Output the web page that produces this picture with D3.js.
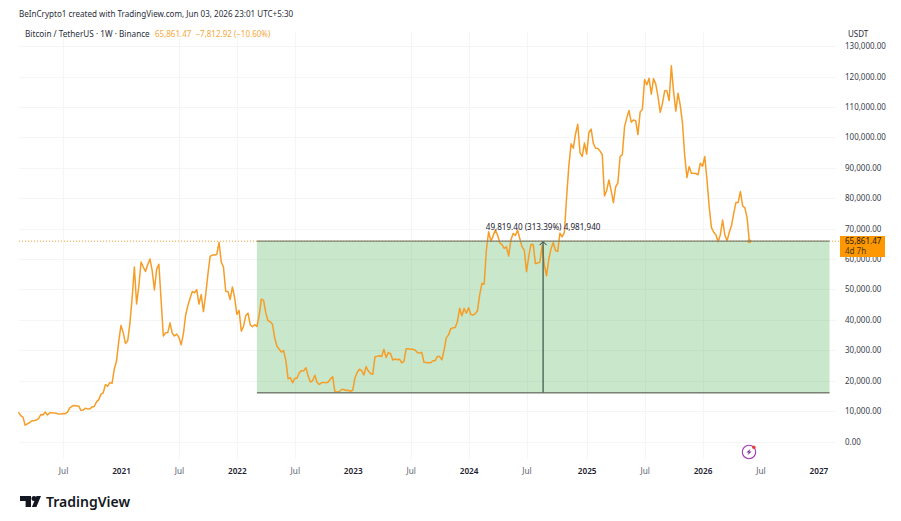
<!DOCTYPE html>
<html>
<head>
<meta charset="utf-8">
<script src="https://cdnjs.cloudflare.com/ajax/libs/d3/7.9.0/d3.min.js"></script>
<style>
html,body{margin:0;padding:0;background:#fff}
svg{display:block}
text{font-family:"Noto Sans",sans-serif}
</style>
</head>
<body>
<svg id="chart" width="901" height="521"></svg>
<script>
// Weekly BTC/USDT closes, one array per calendar year.
const yearStarts = ["2020-02-17","2021-01-04","2022-01-03","2023-01-02","2024-01-01","2025-01-06","2026-01-05"];
const closes2020 = [9660,8530,8030,5360,5820,6250,6790,6860,7040,7550,8870,8720,9680,8720,9450,9470,9330,9300,9000,9060,9230,9160,9680,11070,11570,11840,11650,11710,10250,10330,10920,10770,10670,11370,11500,13030,13760,15480,15960,18680,18180,19360,19170,23850,26450,33000];
const closes2021 = [38150,35800,32250,33100,38850,47150,57400,45200,51000,59000,57350,55900,58200,60000,56150,49800,56600,58300,46430,34700,35700,35800,39000,35600,34700,35300,34250,31780,35400,41500,44600,47100,49300,48900,49900,45200,48300,42700,48200,54950,60860,61300,61300,61500,65500,59000,57300,49400,49300,46700,50800,47300];
const closes2022 = [41800,43100,36300,37900,41400,42200,38400,37700,38400,37800,41300,46800,46400,42200,39700,39400,38500,34000,31300,30300,29400,29900,26600,20600,21000,19300,20800,20800,22600,23300,23200,24300,21500,19550,20000,21800,19400,18800,19300,19440,19270,19570,20600,21300,16300,16280,16430,17100,17100,16780,16840,16540];
const closes2023 = [16830,20900,22700,23750,23320,21860,24630,23160,22350,22100,27900,28000,28200,27940,30300,27600,29230,28850,26770,27110,26850,27070,25840,26340,30530,30470,30290,30290,30080,29230,29050,29300,26050,26000,25870,25900,26530,26580,27970,27920,26850,29990,34070,35040,37060,37370,37450,39470,43790,41370,43720,42150];
const closes2024 = [43970,41730,41580,42030,43010,48300,52000,51700,63100,68960,65800,67600,69500,67900,65300,64700,63500,64010,61000,66270,68400,67760,69500,66670,64000,62900,55850,60800,64800,64800,58500,58710,58970,64600,58000,54500,59990,63340,65400,62800,62500,68500,67300,68780,80370,90600,97900,96400,101100,104300,95000,93700,98100];
const closes2025 = [94500,101600,102700,98000,96400,96300,95500,94300,80700,82600,86000,82400,78500,83700,85000,93700,94300,103500,106400,108800,105000,105700,105500,100900,108300,109200,119000,117300,119400,114200,119300,117500,113500,108200,111100,115300,115300,112100,123500,115000,108600,114500,110500,104700,94000,86800,90400,88200,88200,88100,87700,91500];
const closes2026 = [90500,93700,86000,77000,70300,68800,68000,65700,68000,72800,68000,65900,68800,71000,75000,78600,78600,82200,77500,76800,73500,65861.47];

const priceTicks = [0,10000,20000,30000,40000,50000,60000,70000,80000,90000,100000,110000,120000,130000];
const timeTicks = ["2020-07-06","2021-01-04","2021-07-05","2022-01-03","2022-07-04","2023-01-02","2023-07-03","2024-01-01","2024-07-01","2025-01-06","2025-07-07","2026-01-05","2026-07-06","2027-01-04"];
const timeTickLabels = ["Jul","2021","Jul","2022","Jul","2023","Jul","2024","Jul","2025","Jul","2026","Jul","2027"];
const timeGridTicks = ["2020-07-06","2021-07-05","2022-01-03","2022-07-04","2023-07-03","2024-01-01","2024-07-01","2025-01-06","2025-07-07","2026-01-05"];

const rangeStart = "2022-03-07";
const rangeEnd = "2027-02-08";
const rangeLow = 16042.07;
const rangeHigh = 65861.47;
const rangeMid = "2024-08-19";
const rangeLabel = "49,819.40 (313.39%) 4,981,940";
const headerCredit = "BeInCrypto1 created with TradingView.com, Jun 03, 2026 23:01 UTC+5:30";
const headerSymbol = "Bitcoin / TetherUS · 1W · Binance";
const headerQuote = "65,861.47  −7,812.92 (−10.60%)";

const parseDay = d3.utcParse("%Y-%m-%d");
const yearSeries = [closes2020,closes2021,closes2022,closes2023,closes2024,closes2025,closes2026];
const bars = yearSeries.flatMap((vals,i)=>vals.map((v,k)=>({
  date:d3.utcWeek.offset(parseDay(yearStarts[i]),k), close:v})));

const x = d3.scaleUtc().domain([parseDay("2020-02-17"),parseDay("2027-01-04")]).range([18.5,818.4]);
const y = d3.scaleLinear().domain([0,120000]).range([441.5,76.5]);

const svg = d3.select("#chart");
const orange = "#f69d27";
const plotRight = 836, plotLeft = 19, plotTop = 32, plotBottom = 459;

// Grid
const grid = svg.append("g").attr("stroke","#f5f5f6").attr("stroke-width",1);
grid.selectAll("line.h").data(priceTicks).join("line").attr("class","h")
  .attr("x1",plotLeft).attr("x2",plotRight)
  .attr("y1",d=>Math.round(y(d))+.5).attr("y2",d=>Math.round(y(d))+.5);
grid.selectAll("line.v").data(timeGridTicks).join("line").attr("class","v")
  .attr("x1",d=>Math.round(x(parseDay(d)))+.5).attr("x2",d=>Math.round(x(parseDay(d)))+.5)
  .attr("y1",plotTop).attr("y2",plotBottom);

// Dotted last-price line
svg.append("line").attr("x1",plotLeft).attr("x2",846)
  .attr("y1",y(rangeHigh)).attr("y2",y(rangeHigh))
  .attr("stroke",orange).attr("stroke-width",1).attr("stroke-dasharray","1 2");

// Price range drawing
const rx0 = x(parseDay(rangeStart)), rx1 = x(parseDay(rangeEnd)), rxm = x(parseDay(rangeMid))+1;
svg.append("rect").attr("x",rx0).attr("y",y(rangeHigh))
  .attr("width",rx1-rx0).attr("height",y(rangeLow)-y(rangeHigh))
  .attr("fill","#4caf50").attr("fill-opacity",.3);

// Close line
svg.append("path").datum(bars)
  .attr("fill","none").attr("stroke",orange).attr("stroke-width",1.5).attr("stroke-linejoin","round")
  .attr("d",d3.line().x(d=>x(d.date)).y(d=>y(d.close)));
svg.append("circle").attr("cx",x(bars[bars.length-1].date)).attr("cy",y(rangeHigh)).attr("r",2).attr("fill",orange);

// Range borders and measure arrow
const rangeStroke = "#7a8072";
[rangeHigh,rangeLow].forEach(v=>svg.append("line").attr("x1",rx0).attr("x2",rx1)
  .attr("y1",y(v)).attr("y2",y(v)).attr("stroke",rangeStroke).attr("stroke-width",1.4));
svg.append("line").attr("x1",rxm).attr("x2",rxm).attr("y1",y(rangeHigh)+1).attr("y2",y(rangeLow))
  .attr("stroke","#4d6755").attr("stroke-width",1.4);
svg.append("path").attr("d",`M${rxm-3.5},${y(rangeHigh)+4}L${rxm},${y(rangeHigh)+.5}L${rxm+3.5},${y(rangeHigh)+4}`)
  .attr("fill","none").attr("stroke","#2a2e39").attr("stroke-width",1);
svg.append("text").attr("x",rxm).attr("y",y(rangeHigh)-11.5)
  .attr("text-anchor","middle").attr("font-size",8.1).attr("fill","#1c2030").text(rangeLabel);

// Price axis
const yAxis = d3.axisRight(y).tickValues(priceTicks).tickFormat(d3.format(",.2f")).tickSize(0).tickPadding(0);
const yg = svg.append("g").attr("transform","translate(845,0)").call(yAxis);
yg.select(".domain").remove();
yg.selectAll("text").attr("font-size",8).attr("fill","#3a3e4a").attr("font-family",'"Noto Sans",sans-serif');
svg.append("text").attr("x",848).attr("y",37).attr("font-size",8).attr("fill","#2a2e39").text("USDT");

// Last price tag
svg.append("rect").attr("x",840).attr("y",236).attr("width",45).attr("height",21).attr("fill","#ff9800");
svg.append("text").attr("x",845).attr("y",244).attr("font-size",8).attr("fill","#1c1c1c").text("65,861.47");
svg.append("text").attr("x",845).attr("y",254).attr("font-size",8).attr("fill","#4a3a10").text("4d 7h");

// Time axis
const xAxis = d3.axisBottom(x).tickValues(timeTicks.map(parseDay))
  .tickFormat((d,i)=>timeTickLabels[i]).tickSize(0).tickPadding(0);
const xg = svg.append("g").attr("transform","translate(0,468)").call(xAxis);
xg.select(".domain").remove();
xg.selectAll("text").attr("font-family",'"Noto Sans",sans-serif').attr("font-size",8.2)
  .attr("font-weight",(d,i)=>timeTickLabels[i]==="Jul"?400:600)
  .attr("fill",(d,i)=>timeTickLabels[i]==="Jul"?"#5d606b":"#1c2030");

// Header
svg.append("text").attr("x",19).attr("y",17).attr("font-size",8.07).attr("fill","#2a2e39").text(headerCredit);
svg.append("text").attr("x",25).attr("y",36.5).attr("font-size",8.2).attr("fill","#2a2e39").text(headerSymbol);
svg.append("text").attr("x",155).attr("y",36.5).attr("font-size",8).attr("fill","#f7a83a").attr("xml:space","preserve").text(headerQuote);

// Lightning badge
const badge = svg.append("g").attr("transform","translate(749,452)");
badge.append("circle").attr("r",6.7).attr("fill","#fff").attr("stroke","#a53bb5").attr("stroke-width",1.1);
badge.append("path").attr("d","M1.5,-3.2L-2.6,.6L-.2,.6L-1.5,3.2L2.6,-.6L.2,-.6Z").attr("fill","#7b2f9e");
badge.append("circle").attr("cx",4.8).attr("cy",-4.7).attr("r",1.7).attr("fill","#ef3b3b");

// Wordmark
const logo = svg.append("g").attr("transform","translate(20,496)").attr("fill","#131722");
logo.append("path").attr("d","M0,0H11V11H5.6V5H0Z");
logo.append("circle").attr("cx",14).attr("cy",2.5).attr("r",2.5);
logo.append("path").attr("d","M16.5,0H21L16.4,11H11.9Z");
svg.append("text").attr("x",46).attr("y",507).attr("font-family","Inter,sans-serif").attr("font-size",14).attr("font-weight",600).attr("fill","#131722").text("TradingView");
</script>
</body>
</html>
